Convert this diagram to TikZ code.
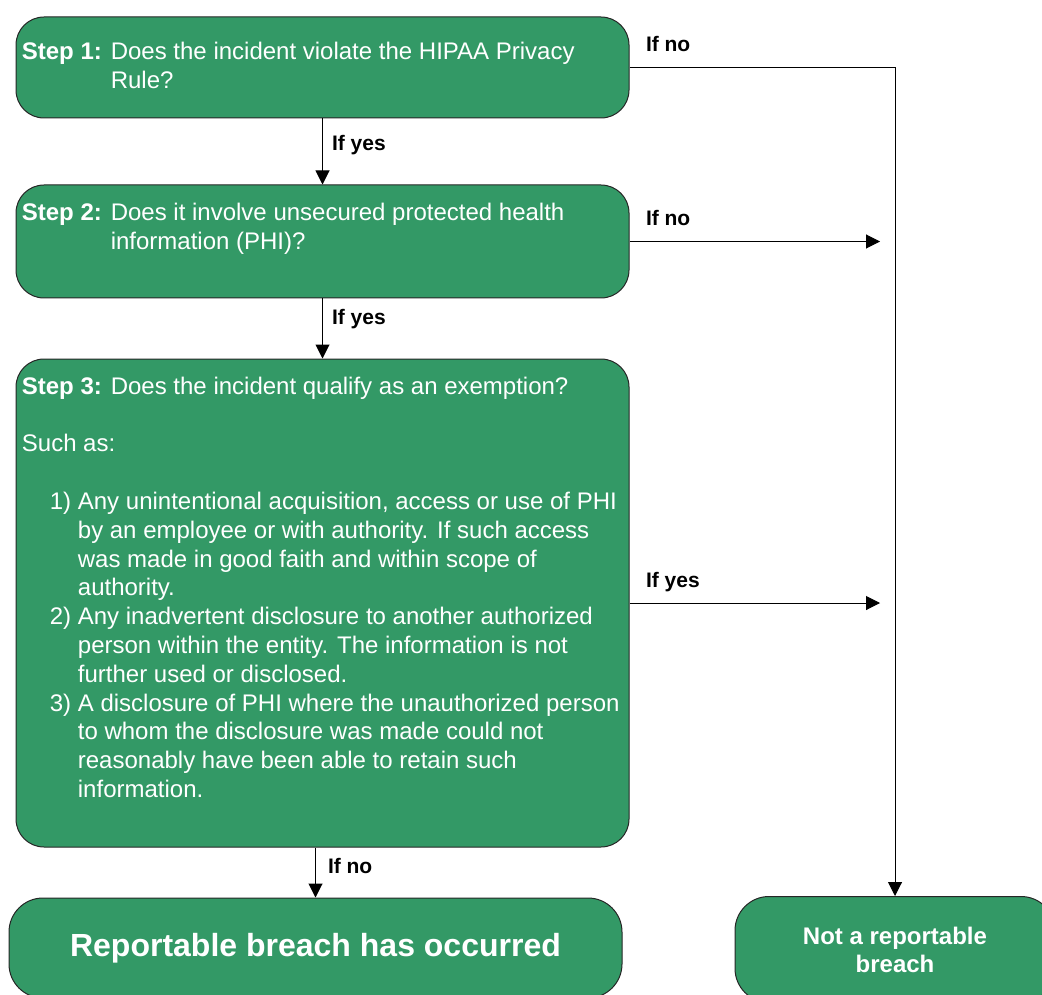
\documentclass[tikz,border=0pt]{standalone}
\usepackage{fontspec}
\setmainfont{Liberation Sans}
\usetikzlibrary{arrows.meta,positioning}
\definecolor{stepgreen}{RGB}{51,153,102}
\newcommand{\itemind}{\hspace*{14pt}}
\newcommand{\hangind}{\hspace*{14pt}\phantom{1) }}

\begin{document}
\begin{tikzpicture}[
  x=0.5pt,y=-0.5pt,
  stepbox/.style={draw=black!85,fill=stepgreen,rounded corners=14pt,line width=0.5pt,minimum width=306.5pt,inner sep=0pt},
  steptext/.style={text=white,align=left,inner sep=0pt,anchor=north west,font=\fontsize{12}{14.4}\selectfont},
  endbox/.style={stepbox,rounded corners=17pt,text=white,align=center},
  flow/.style={-{Triangle[length=7pt,width=7pt]},line width=0.5pt},
  lbl/.style={font=\fontsize{10.5}{12}\selectfont\bfseries,inner sep=1pt}
]
\clip (0,0) rectangle (1042,994);

% the three steps
\node[stepbox,minimum height=50.5pt] (s1) at (322.5,67.5) {};
\node[stepbox,minimum height=56.5pt] (s2) at (322.5,241.5) {};
\node[stepbox,minimum height=244pt] (s3) at (322.5,603) {};

\node[steptext] (t1) at ([xshift=3pt,yshift=-12.5pt]s1.north west)
  {\textbf{Step 1:} Does the incident violate the HIPAA Privacy\\
   \phantom{\textbf{Step 1:} }Rule?};
\node[steptext] (t2) at ([xshift=3pt,yshift=-9pt]s2.north west)
  {\textbf{Step 2:} Does it involve unsecured protected health\\
   \phantom{\textbf{Step 2:} }information (PHI)?};
\node[steptext] (t3) at ([xshift=3pt,yshift=-9pt]s3.north west)
  {\textbf{Step 3:} Does the incident qualify as an exemption?\\[14.4pt]
   Such as:\\[14.4pt]
   \itemind 1) Any unintentional acquisition, access or use of PHI\\
   \hangind by an employee or with authority. If such access\\
   \hangind was made in good faith and within scope of\\
   \hangind authority.\\
   \itemind 2) Any inadvertent disclosure to another authorized\\
   \hangind person within the entity. The information is not\\
   \hangind further used or disclosed.\\
   \itemind 3) A disclosure of PHI where the unauthorized person\\
   \hangind to whom the disclosure was made could not\\
   \hangind reasonably have been able to retain such\\
   \hangind information.};

% outcomes
\node[endbox,minimum height=50pt,font=\fontsize{16}{19}\selectfont\bfseries] (yes) at (315.5,948) {Reportable breach has occurred};
\node[endbox,minimum width=160pt,minimum height=53pt,font=\fontsize{12}{14}\selectfont\bfseries] (no) at (895,949.5) {Not a reportable\\breach};

\coordinate (e2) at (880,241.5);
\coordinate (e3) at (880,603);

\draw[flow] (s1) -- node[lbl,right=3.5pt,pos=0.4] {If yes} (s2);
\draw[flow] (s2) -- node[lbl,right=3.5pt,pos=0.35] {If yes} (s3);
\draw[flow] (yes.north |- s3.south) -- node[lbl,right=5pt,pos=0.37] {If no} (yes.north);
\draw[flow] (s1.east) node[lbl,anchor=base west,xshift=7pt,yshift=8pt] {If no} -| (no.north);
\draw[flow] (s2.east) node[lbl,anchor=base west,xshift=7pt,yshift=8pt] {If no} -- (e2);
\draw[flow] (s3.east) node[lbl,anchor=base west,xshift=7pt,yshift=8pt] {If yes} -- (e3);
\end{tikzpicture}
\end{document}
